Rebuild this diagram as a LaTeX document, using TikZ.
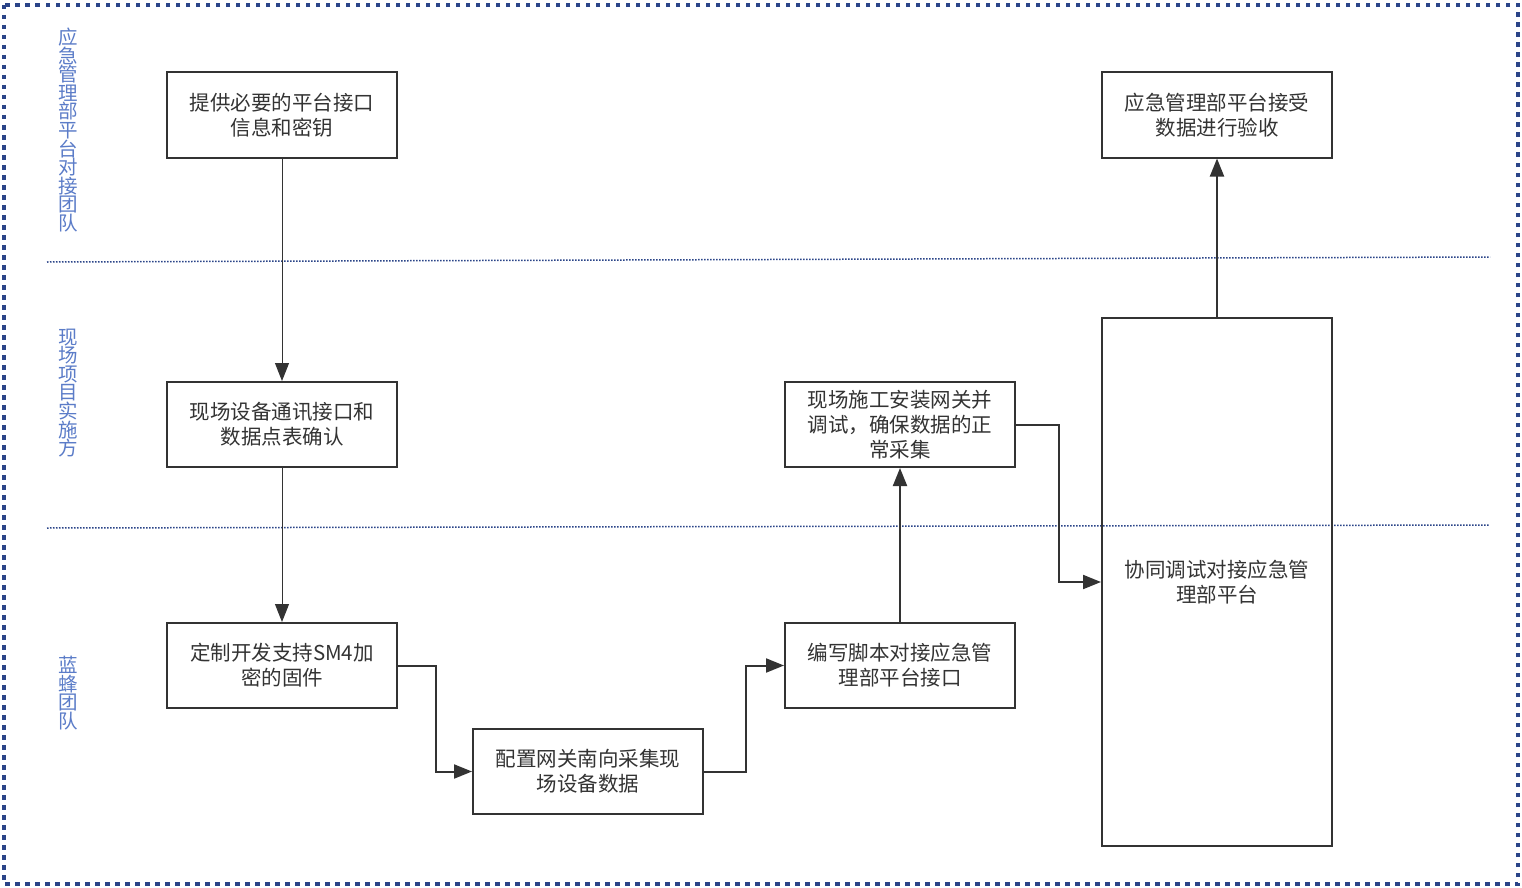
\documentclass[tikz,border=0pt]{standalone}
\usepackage{fontspec}
\setmainfont{Noto Sans CJK SC}
\usetikzlibrary{arrows.meta}
\definecolor{framec}{HTML}{2A4488}
\definecolor{lanec}{HTML}{5B7CC8}
\definecolor{inkc}{HTML}{333333}
\begin{document}
\begin{tikzpicture}[x=1pt,y=-1pt,
  box/.style={draw=inkc, line width=2pt, text=inkc, align=center, inner sep=0pt,
    minimum width=230pt, minimum height=85pt, font=\fontsize{20.5}{25}\selectfont},
  lanelabel/.style={text=lanec, align=center, inner sep=0pt, font=\fontsize{19.5}{18.6}\selectfont},
  laneline/.style={draw=framec, line width=1.5pt, dash pattern=on 1.5pt off 1.5pt},
  arr/.style={draw=inkc, line width=2pt, -{Triangle[width=14pt,length=18pt]}},
  thinarr/.style={draw=inkc, line width=1pt, -{Triangle[width=14pt,length=18pt]}}]
\useasboundingbox (0,0) rectangle (1522,888);
\fill[white] (0,0) rectangle (1522,888);
\draw[framec, line width=4.5pt, dash pattern=on 4.5pt off 5.5pt] (4,5) rectangle (1518,884);
% lane separators
\coordinate (l1a) at (47,262);
\coordinate (l1b) at (1490,257);
\coordinate (l2a) at (47,528);
\coordinate (l2b) at (1490,525);
\draw[laneline] (l1a) -- (l1b);
\draw[laneline] (l2a) -- (l2b);
% lane labels
\node[lanelabel] (lab1) at (68,130) {应\\急\\管\\理\\部\\平\\台\\对\\接\\团\\队};
\node[lanelabel] (lab2) at (68,393) {现\\场\\项\\目\\实\\施\\方};
\node[lanelabel] (lab3) at (68,693) {蓝\\蜂\\团\\队};
% boxes
\node[box] (A) at (282,115) {提供必要的平台接口\\信息和密钥};
\node[box] (B) at (282,424.5) {现场设备通讯接口和\\数据点表确认};
\node[box] (C) at (282,665.5) {定制开发支持SM4加\\密的固件};
\node[box] (D) at (588,771.5) {配置网关南向采集现\\场设备数据};
\node[box] (E) at (900,665.5) {编写脚本对接应急管\\理部平台接口};
\node[box] (F) at (900,424.5) {现场施工安装网关并\\调试，确保数据的正\\常采集};
\node[box, minimum height=528pt] (G) at (1217,582) {协同调试对接应急管\\理部平台};
\node[box] (H) at (1217,115) {应急管理部平台接受\\数据进行验收};
% connectors
\draw[thinarr] (A) -- (B);
\draw[thinarr] (B) -- (C);
\draw[arr] (C.east) -- ++(38,0) |- (D.west);
\draw[arr] (D.east) -- ++(42,0) |- (E.west);
\draw[arr] (E) -- (F);
\draw[arr] (F.east) -- ++(43,0) |- (G.west);
\draw[arr] (G) -- (H);
\end{tikzpicture}
\end{document}
